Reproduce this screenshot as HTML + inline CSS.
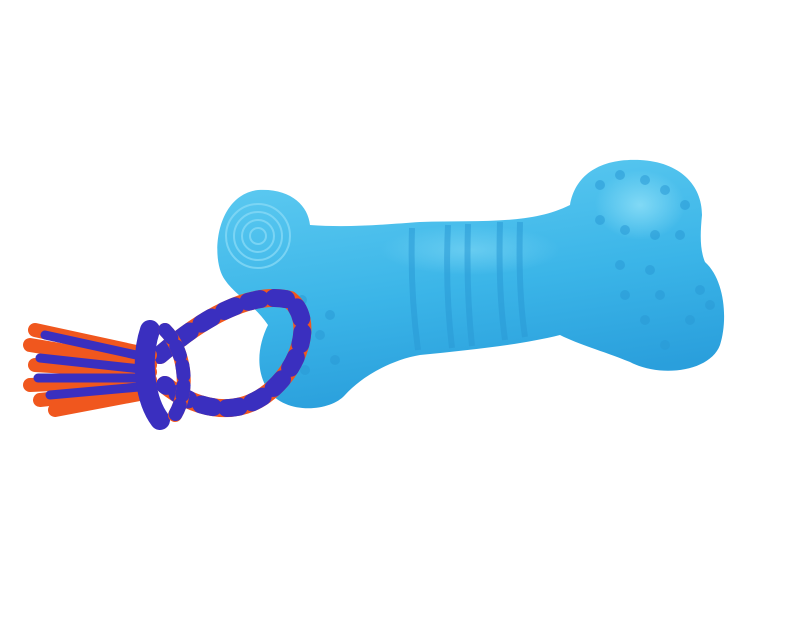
<!DOCTYPE html>
<html><head><meta charset="utf-8"><style>
html,body{margin:0;padding:0;background:#fff;width:800px;height:620px;overflow:hidden}
svg{display:block}
</style></head><body>
<svg width="800" height="620" viewBox="0 0 800 620">
<defs>
<linearGradient id="bg" x1="0" y1="0" x2="0.3" y2="1"><stop offset="0" stop-color="#62cdf2"/><stop offset="0.6" stop-color="#3bb5e8"/><stop offset="1" stop-color="#2a9fdc"/></linearGradient>
<radialGradient id="hl" cx="50%" cy="50%" r="50%"><stop offset="0" stop-color="#8fe0f8" stop-opacity="0.8"/><stop offset="1" stop-color="#8fe0f8" stop-opacity="0"/></radialGradient>
</defs>
<g>
<path fill="url(#bg)" d="M258,190 C290,188 308,205 310,225 C350,228 390,224 420,222 C480,220 530,225 570,205 C575,175 600,158 640,160 C680,162 702,185 702,215 C700,235 700,250 705,262 C725,280 728,320 720,345 C710,372 660,378 630,362 C600,350 580,345 560,335 C520,345 470,350 420,355 C390,360 360,378 345,395 C330,412 285,415 268,390 C255,370 258,345 268,325 C255,305 235,295 225,280 C210,260 215,195 258,190 Z"/>
<ellipse cx="640" cy="205" rx="45" ry="35" fill="url(#hl)"/>
<ellipse cx="470" cy="250" rx="90" ry="25" fill="url(#hl)" opacity="0.6"/>
<g fill="none" stroke="#85d9f6" stroke-width="2" opacity="0.8">
<circle cx="258" cy="236" r="8"/><circle cx="258" cy="236" r="16"/><circle cx="258" cy="236" r="24"/><circle cx="258" cy="236" r="32"/>
</g>
<g stroke="#2a9ad6" stroke-width="6" opacity="0.55" fill="none">
<path d="M412,228 Q410,290 418,350"/><path d="M448,225 Q445,290 452,348"/><path d="M468,224 Q466,290 472,346"/><path d="M500,222 Q498,290 505,340"/><path d="M520,222 Q518,290 525,337"/>
</g>
<g fill="#2a9ad6" opacity="0.55">
<circle cx="600" cy="185" r="5"/><circle cx="620" cy="175" r="5"/><circle cx="645" cy="180" r="5"/><circle cx="665" cy="190" r="5"/><circle cx="685" cy="205" r="5"/>
<circle cx="600" cy="220" r="5"/><circle cx="625" cy="230" r="5"/><circle cx="655" cy="235" r="5"/><circle cx="680" cy="235" r="5"/><circle cx="620" cy="265" r="5"/><circle cx="650" cy="270" r="5"/>
<circle cx="625" cy="295" r="5"/><circle cx="660" cy="295" r="5"/><circle cx="700" cy="290" r="5"/><circle cx="645" cy="320" r="5"/><circle cx="690" cy="320" r="5"/><circle cx="665" cy="345" r="5"/><circle cx="710" cy="305" r="5"/>
<circle cx="302" cy="300" r="5"/><circle cx="330" cy="315" r="5"/><circle cx="320" cy="335" r="5"/><circle cx="300" cy="345" r="5"/><circle cx="335" cy="360" r="5"/><circle cx="305" cy="370" r="5"/>
</g>
</g>
<g stroke-linecap="round" fill="none">
<path d="M160,355 C200,320 250,290 290,300 C315,320 300,370 265,395 C230,420 190,405 165,385" stroke="#f0571e" stroke-width="18"/>
<path d="M160,355 C200,320 250,290 290,300 C315,320 300,370 265,395 C230,420 190,405 165,385" stroke="#3a2fbf" stroke-width="18" stroke-dasharray="12 14"/>
<path d="M35,330 L150,355 M30,345 L150,365 M35,365 L150,372 M30,385 L150,380 M40,400 L150,388 M55,410 L150,392" stroke="#f0571e" stroke-width="14"/>
<path d="M45,335 L150,358 M40,358 L150,370 M38,378 L150,378 M50,395 L150,386" stroke="#3a2fbf" stroke-width="9"/>
<path d="M150,330 C140,360 145,400 160,420" stroke="#3a2fbf" stroke-width="20"/>
<path d="M165,330 C185,350 190,390 175,415" stroke="#f0571e" stroke-width="14"/>
<path d="M165,330 C185,350 190,390 175,415" stroke="#3a2fbf" stroke-width="14" stroke-dasharray="10 10"/>
</g>
</svg>
</body></html>
